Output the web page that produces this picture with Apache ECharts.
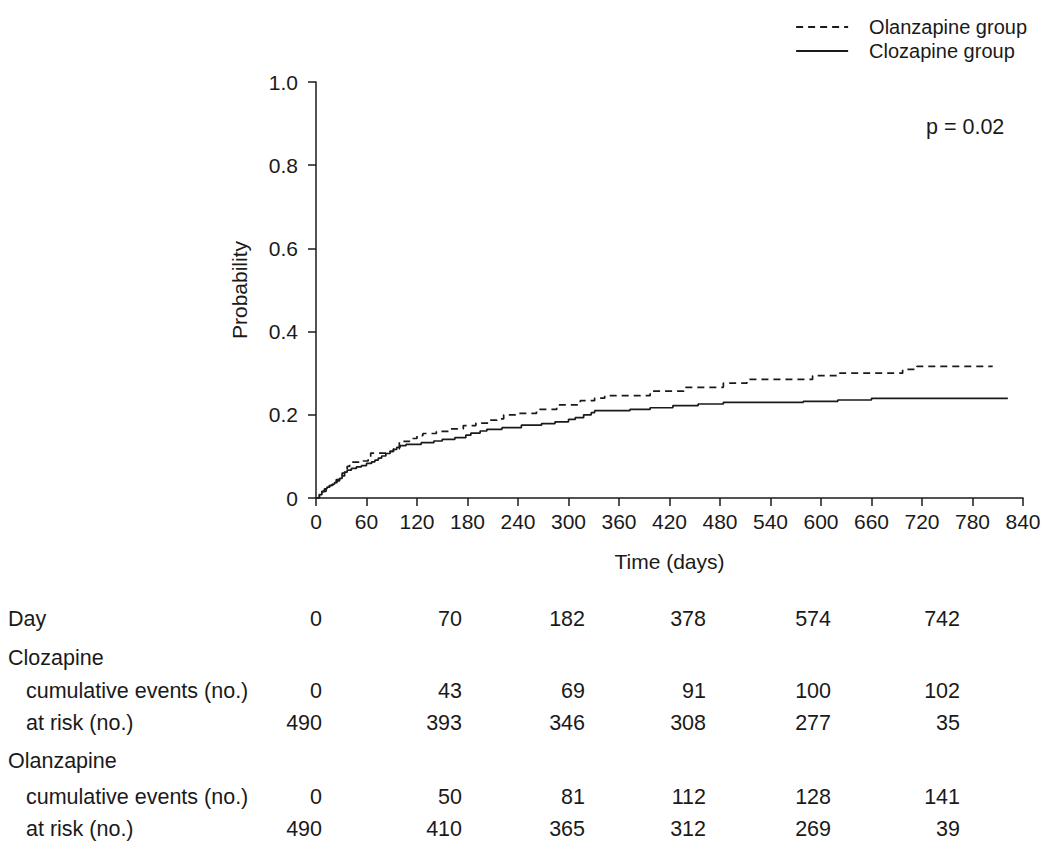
<!DOCTYPE html>
<html>
<head>
<meta charset="utf-8">
<script src="https://cdn.jsdelivr.net/npm/echarts@6/dist/echarts.min.js"></script>
<style>
html,body{margin:0;padding:0;background:#fff;}
#chart{width:1050px;height:849px;}
</style>
</head>
<body>
<div id="chart"></div>
<script>
// ---- Data ----
const xTicks = [0,60,120,180,240,300,360,420,480,540,600,660,720,780,840];
const yTicks = [0,0.2,0.4,0.6,0.8,1.0];

const clozDays = [0,4,7,10,13,16,19,22,25,28,31,34,37,42,48,54,60,66,70,74,78,83,88,92,96,100,107,125,140,150,165,178,184,195,203,221,244,268,284,300,308,318,327,331,373,397,424,454,484,579,620,660,822];
const clozProb = [0,0.008,0.016,0.022,0.026,0.030,0.033,0.037,0.041,0.047,0.053,0.062,0.067,0.071,0.075,0.078,0.083,0.087,0.091,0.096,0.101,0.107,0.112,0.117,0.122,0.126,0.129,0.133,0.137,0.141,0.145,0.151,0.156,0.161,0.165,0.169,0.175,0.179,0.183,0.189,0.193,0.200,0.205,0.210,0.213,0.217,0.222,0.226,0.230,0.2325,0.2356,0.2396,0.2396];

const olanDays = [0,4,8,12,16,20,24,28,31,34,37,40,56,62,65,84,92,99,111,120,127,143,159,175,190,206,215,223,238,262,286,314,331,343,397,437,484,512,590,622,697,714,804];
const olanProb = [0,0.008,0.016,0.024,0.030,0.036,0.044,0.052,0.060,0.068,0.076,0.086,0.089,0.098,0.108,0.112,0.118,0.136,0.143,0.150,0.155,0.160,0.166,0.174,0.180,0.187,0.190,0.200,0.2035,0.213,0.224,0.234,0.240,0.246,0.257,0.266,0.276,0.285,0.294,0.300,0.309,0.3166,0.3166];

const tableDays   = [0,70,182,378,574,742];
const clozEvents  = [0,43,69,91,100,102];
const clozAtRisk  = [490,393,346,308,277,35];
const olanEvents  = [0,50,81,112,128,141];
const olanAtRisk  = [490,410,365,312,269,39];

const seriesNames = ['Olanzapine group','Clozapine group'];
const pValueText = 'p = 0.02';

// ---- Layout / style ----
const FONT = 'Liberation Sans, Arial, Helvetica, sans-serif';
const FS = 21;
const INK = '#1a1a1a';
const colX = [322,462,585,706,831,960];
const rows = [
  {label:'Day', x:8, y:619, vals:tableDays},
  {label:'Clozapine', x:8, y:658, vals:null},
  {label:'cumulative events (no.)', x:26, y:691, vals:clozEvents},
  {label:'at risk (no.)', x:26, y:723, vals:clozAtRisk},
  {label:'Olanzapine', x:8, y:761, vals:null},
  {label:'cumulative events (no.)', x:26, y:797, vals:olanEvents},
  {label:'at risk (no.)', x:26, y:829, vals:olanAtRisk}
];

const graphics = [];
rows.forEach(r => {
  graphics.push({type:'text', x:r.x, y:r.y, style:{text:r.label, font:'21.5px '+FONT, fill:INK, textAlign:'left', textVerticalAlign:'middle'}});
  if (r.vals) {
    r.vals.forEach((v,i) => {
      graphics.push({type:'text', x:colX[i], y:r.y, style:{text:String(v), font:'21.5px '+FONT, fill:INK, textAlign:'right', textVerticalAlign:'middle'}});
    });
  }
});
graphics.push({type:'text', x:926, y:127, style:{text:pValueText, font:'21.5px '+FONT, fill:INK, textAlign:'left', textVerticalAlign:'middle'}});

const zip = (a,b) => a.map((d,i)=>[d,b[i]]);

const chart = echarts.init(document.getElementById('chart'), null, {renderer:'svg'});
chart.setOption({
  backgroundColor:'#fff',
  animation:false,
  textStyle:{fontFamily:FONT},
  grid:{left:316, right:27, top:82, bottom:351, containLabel:false},
  legend:{
    orient:'vertical', right:18, top:12,
    itemWidth:52, itemHeight:14, itemGap:4,
    itemStyle:{opacity:0},
    textStyle:{fontSize:20, color:INK, fontFamily:FONT, padding:[0,0,0,16]},
    data:seriesNames
  },
  xAxis:{
    type:'value', min:0, max:840, interval:60,
    name:'Time (days)', nameLocation:'middle', nameGap:53,
    nameTextStyle:{fontSize:FS, color:INK, fontFamily:FONT},
    axisLine:{show:true, lineStyle:{color:INK, width:1.5}},
    axisTick:{show:true, length:8, lineStyle:{color:INK, width:1.5}},
    axisLabel:{fontSize:FS, color:INK, margin:13, fontFamily:FONT, formatter:v=>String(v)},
    splitLine:{show:false}
  },
  yAxis:{
    type:'value', min:0, max:1, interval:0.2,
    name:'Probability', nameLocation:'middle', nameGap:66,
    nameTextStyle:{fontSize:FS, color:INK, fontFamily:FONT},
    axisLine:{show:true, lineStyle:{color:INK, width:1.5}},
    axisTick:{show:true, length:8, lineStyle:{color:INK, width:1.5}},
    axisLabel:{fontSize:FS, color:INK, margin:18, fontFamily:FONT, formatter:v=> v===0 ? '0' : v.toFixed(1)},
    splitLine:{show:false}
  },
  series:[
    {name:seriesNames[0], type:'line', step:'end', symbol:'none', showSymbol:false,
     data:zip(olanDays, olanProb), color:INK,
     lineStyle:{color:INK, width:1.7, type:[7,5]}},
    {name:seriesNames[1], type:'line', step:'end', symbol:'none', showSymbol:false,
     data:zip(clozDays, clozProb), color:INK,
     lineStyle:{color:INK, width:1.7, type:'solid'}}
  ],
  graphic:graphics
});
</script>
</body>
</html>
